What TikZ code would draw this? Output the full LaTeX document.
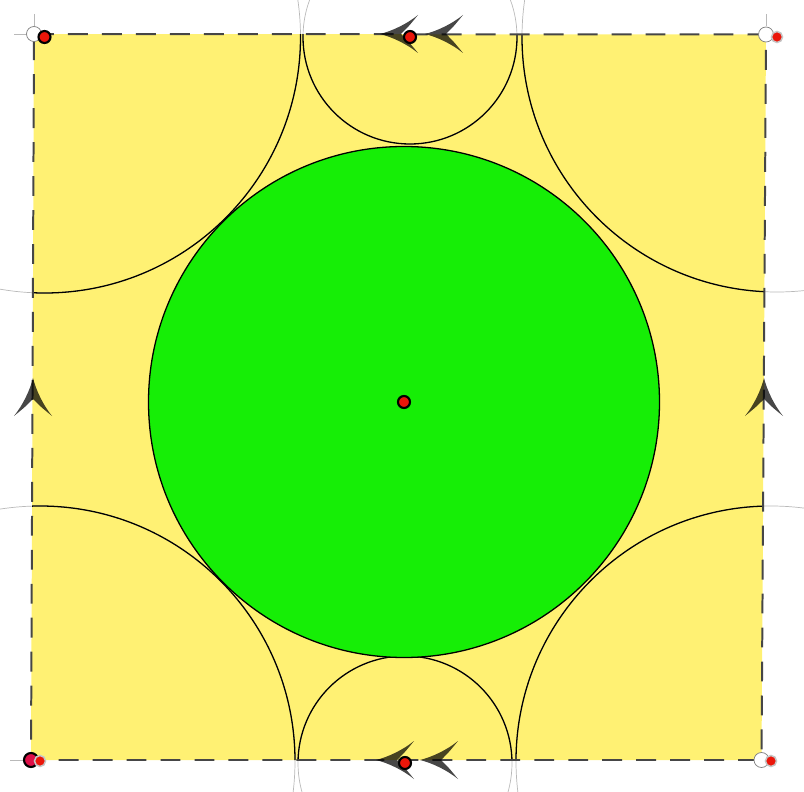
\documentclass[tikz,border=0pt]{standalone}
\usepackage{tikz}
\usetikzlibrary{calc}
\definecolor{sheet}{RGB}{255,241,115}
\definecolor{disc}{RGB}{22,238,6}
\definecolor{edge}{RGB}{70,70,70}
\definecolor{ptred}{RGB}{235,22,10}
\definecolor{crimson}{RGB}{222,16,72}
\tikzset{
  arcline/.style={line width=1.1pt, draw=black},
  ghost/.style={line width=0.6pt, draw=gray!55},
  glued/.style={line width=1.7pt, draw=edge, dash pattern=on 17pt off 12pt},
  ptfix/.style={fill=ptred, draw=black, line width=1.8pt},
  ptfree/.style={fill=ptred, draw=gray!45, line width=1.3pt},
  hollow/.style={fill=white, draw=gray, line width=0.6pt},
  chev/.pic={
    \fill[black, opacity=0.72] (0,0) .. controls (-12,-3) and (-27,-10) .. (-38,-19)
      .. controls (-29,-8) .. (-21,0) .. controls (-29,8) .. (-38,19)
      .. controls (-27,10) and (-12,3) .. (0,0) -- cycle;
  }
}

\begin{document}
\begin{tikzpicture}[x=0.03cm, y=-0.03cm]
  \useasboundingbox (0,0) rectangle (804,792);
  \clip (0,0) rectangle (804,792);

  % The corners of the sheet and the circle centres
  \coordinate (TL) at (34,34);
  \coordinate (TR) at (766,34.5);
  \coordinate (BR) at (761.5,760);
  \coordinate (BL) at (31,760);
  \coordinate (O) at (404,402);
  \coordinate (cTL) at (44.5,37);
  \coordinate (cTR) at (777,37);
  \coordinate (cBR) at (771,761);
  \coordinate (cBL) at (40,761);
  \coordinate (cT) at (410,37);
  \coordinate (cB) at (405,763);

  % The sheet
  \fill[sheet] (TL) -- (TR) -- (BR) -- (BL) -- cycle;

  % Circles, faint where they leave the sheet
  \foreach \c/\r in {cTL/256, cTR/255, cBR/255, cBL/255, cT/107, cB/107}
    \draw[ghost] (\c) circle (\r);
  \begin{scope}
    \clip (TL) -- (TR) -- (BR) -- (BL) -- cycle;
    \foreach \c/\r in {cTL/256, cTR/255, cBR/255, cBL/255, cT/107, cB/107}
      \draw[arcline] (\c) circle (\r);
  \end{scope}

  % The big disc
  \filldraw[fill=disc, arcline] (O) circle (255.5);

  % Little stubs at the corners
  \draw[ghost] (34,14) -- (34,26) (14,34) -- (26,34);
  \draw[ghost] (766,14) -- (766,26);
  \draw[ghost] (10,760) -- (23,760);

  % Glued edges
  \draw[glued] (TL) -- (TR) -- (BR) -- (BL) -- cycle;

  % Arrows telling how the edges are glued
  \pic[rotate=180] at (380,34) {chev};
  \pic[rotate=180] at (425,34) {chev};
  \pic[rotate=180] at (376,760) {chev};
  \pic[rotate=180] at (420,760) {chev};
  \pic[rotate=90] at (33,378) {chev};
  \pic[rotate=90] at (764,378) {chev};

  % Points
  \filldraw[hollow] (TL) circle (7.5);
  \filldraw[hollow] (TR) circle (7.5);
  \filldraw[hollow] (BR) circle (7.5);
  \filldraw[fill=crimson, draw=black, line width=1.8pt] (BL) circle (7);
  \filldraw[ptfix] (cTL) circle (6);
  \filldraw[ptfree] (cTR) circle (5.5);
  \filldraw[ptfree] (cBR) circle (5.5);
  \filldraw[ptfree] (cBL) circle (5.5);
  \filldraw[ptfix] (cT) circle (6);
  \filldraw[ptfix] (cB) circle (6);
  \filldraw[ptfix] (O) circle (6);
\end{tikzpicture}
\end{document}
